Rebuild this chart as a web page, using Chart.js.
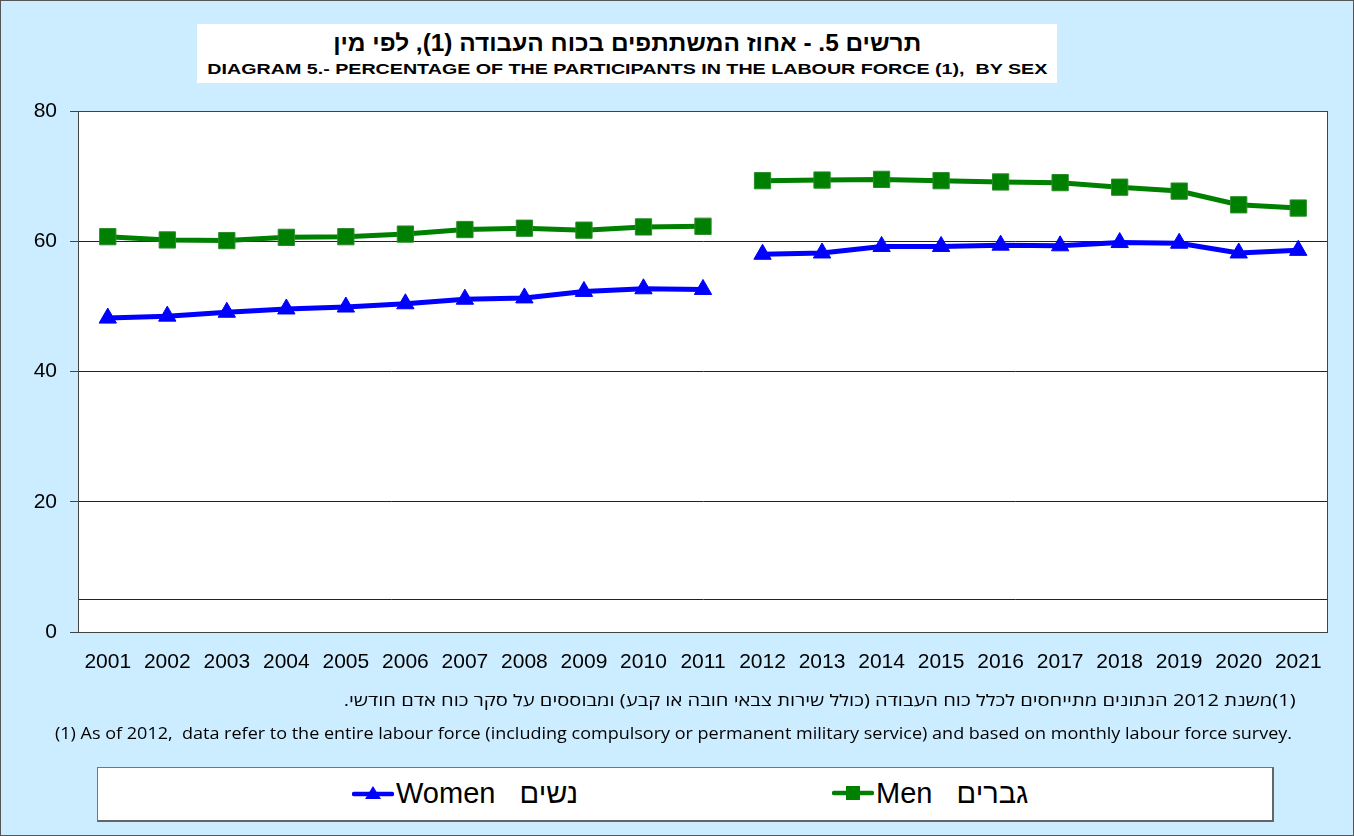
<!DOCTYPE html>
<html>
<head>
<meta charset="utf-8">
<script src="https://cdn.jsdelivr.net/npm/chart.js@4.4.1/dist/chart.umd.min.js"></script>
<style>
  html, body { margin:0; padding:0; }
  body { width:1354px; height:836px; background:#CCECFF; position:relative; overflow:hidden; font-family:"Liberation Sans", Arial, sans-serif; }
  #frame { position:absolute; left:0; top:0; width:1352px; height:834px; border:1px solid #555; pointer-events:none; }
  #wrap { position:absolute; left:0; top:0; width:1354px; height:836px; }
  #titlebox { position:absolute; left:197px; top:24px; width:860px; height:59px; background:#fff; text-align:center; }
  #t1 { position:absolute; left:0; right:0; top:6px; font-weight:bold; font-size:23px; direction:rtl; line-height:26px; }
  #t1s { display:inline-block; white-space:nowrap; transform-origin:center center; }
  #t2 { position:absolute; left:0; right:0; top:36px; font-weight:bold; font-size:15px; line-height:18px; white-space:nowrap; }
  .fit { display:inline-block; white-space:nowrap; transform-origin:center center; }
  #fnHe { position:absolute; right:58px; top:689px; font-size:16px; direction:rtl; white-space:nowrap; font-family:"Open Sans","Liberation Sans",sans-serif; }
  #fnEn { position:absolute; left:55px; top:722px; font-size:16px; white-space:nowrap; font-family:"Open Sans","Liberation Sans",sans-serif; transform-origin:left center; }
  #legend { position:absolute; left:97px; top:767px; width:1174px; height:52px; background:#fff; border:1px solid #777; border-right:2px solid #666; border-bottom:2px solid #666; }
  .li { position:absolute; top:7px; font-size:29px; line-height:36px; white-space:nowrap; display:flex; align-items:center; }
  .li svg { display:block; margin-right:2px; }
</style>
</head>
<body>
<div id="wrap"><canvas id="c" width="1354" height="836"></canvas></div>
<div id="titlebox">
  <div id="t1"><span id="t1s">תרשים 5. - אחוז המשתתפים בכוח העבודה (1), לפי מין</span></div>
  <div id="t2"><span class="fit" id="t2s">DIAGRAM 5.- PERCENTAGE OF THE PARTICIPANTS IN THE LABOUR FORCE (1),&nbsp; BY SEX</span></div>
</div>
<div id="fnHe">(1)משנת 2012 הנתונים מתייחסים לכלל כוח העבודה (כולל שירות צבאי חובה או קבע) ומבוססים על סקר כוח אדם חודשי.</div>
<div id="fnEn">(1) As of 2012,&nbsp; data refer to the entire labour force (including compulsory or permanent military service) and based on monthly labour force survey.</div>
<div id="legend">
  <div class="li" id="liW" style="left:254px;">
    <svg width="42" height="24"><line x1="2" y1="13" x2="40" y2="13" stroke="#0000FF" stroke-width="4.5" stroke-linecap="round"/><polygon points="21,5 29,18 13,18" fill="#0000FF"/></svg>
    <span>Women&nbsp;&nbsp;&nbsp;נשים</span>
  </div>
  <div class="li" id="liM" style="left:734px;">
    <svg width="42" height="24"><line x1="2" y1="12" x2="40" y2="12" stroke="#008000" stroke-width="4.5" stroke-linecap="round"/><rect x="14" y="5" width="14" height="14" fill="#008000"/></svg>
    <span>Men&nbsp;&nbsp;&nbsp;גברים</span>
  </div>
</div>
<div id="frame"></div>
<script>
const years = ['2001','2002','2003','2004','2005','2006','2007','2008','2009','2010','2011','2012','2013','2014','2015','2016','2017','2018','2019','2020','2021'];
const women = [48.2,48.5,49.1,49.6,49.9,50.4,51.1,51.3,52.3,52.7,52.6,58.0,58.2,59.2,59.2,59.4,59.3,59.8,59.7,58.2,58.6];
const men   = [60.7,60.2,60.1,60.6,60.7,61.1,61.8,62.0,61.7,62.2,62.3,69.3,69.4,69.5,69.3,69.1,69.0,68.3,67.7,65.6,65.1];
const yTicks = [0,5,20,40,60,80];
const breakIndex = 10; // series methodology break between 2011 and 2012

const AREA = {left:78, top:111, right:1328, bottom:632};
const XH = 50;

const bgPlugin = {
  id:'bg',
  beforeDraw(chart){
    const {ctx, chartArea:a} = chart;
    ctx.save(); ctx.fillStyle='#fff'; ctx.fillRect(a.left,a.top,a.right-a.left,a.bottom-a.top); ctx.restore();
  },
  afterDatasetsDraw(chart){
    const {ctx, chartArea:a} = chart;
    ctx.save(); ctx.strokeStyle='#444'; ctx.lineWidth=1;
    ctx.strokeRect(a.left+0.5,a.top+0.5,a.right-a.left-1,a.bottom-a.top);
    ctx.restore();
  }
};

const gap = c => c.p0DataIndex === breakIndex ? 'rgba(0,0,0,0)' : undefined;

new Chart(document.getElementById('c'), {
  type:'line',
  data:{
    labels: years,
    datasets:[
      {label:'Women נשים', data:women, borderColor:'#0000FF', backgroundColor:'#0000FF', borderWidth:5,
       pointStyle:'triangle', pointRadius:10, pointHoverRadius:10, pointBorderWidth:1, segment:{borderColor:gap}, tension:0},
      {label:'Men גברים', data:men, borderColor:'#008000', backgroundColor:'#008000', borderWidth:5,
       pointStyle:'rect', pointRadius:11.5, pointHoverRadius:11.5, pointBorderWidth:1, pointBorderColor:'#2a8a2a', segment:{borderColor:gap}, tension:0}
    ]
  },
  options:{
    responsive:false, animation:false, devicePixelRatio:1,
    layout:{padding:{left:0, top:AREA.top, right:1354-AREA.right, bottom:836-AREA.bottom-XH}},
    plugins:{legend:{display:false}, tooltip:{enabled:false}, title:{display:false}},
    scales:{
      x:{
        offset:true,
        grid:{display:false},
        border:{display:false},
        ticks:{color:'#000', font:{family:'"Liberation Sans", Arial, sans-serif', size:21}, padding:10, maxRotation:0, autoSkip:false},
        afterFit(s){ s.height = XH; }
      },
      y:{
        min:0, max:80,
        afterBuildTicks(s){ s.ticks = yTicks.map(v=>({value:v})); },
        afterFit(s){ s.width = AREA.left; },
        grid:{color:'#222', lineWidth:1, drawTicks:true, tickLength:8,
              tickColor: c => (c.tick && c.tick.value===5) ? 'rgba(0,0,0,0)' : '#444'},
        border:{display:true, color:'#444'},
        ticks:{color:'#000', font:{family:'"Liberation Sans", Arial, sans-serif', size:21}, padding:13,
               callback: v => v===5 ? '' : v}
      }
    }
  },
  plugins:[bgPlugin]
});

// fit condensed text widths to the reference extents
function fitWidth(el, target){
  const w = el.getBoundingClientRect().width;
  if (w>0) el.style.transform = 'scaleX(' + (target/w) + ')';
}
fitWidth(document.getElementById('t1s'), 588);
fitWidth(document.getElementById('t2s'), 840);
fitWidth(document.getElementById('fnEn'), 1237);
const he = document.getElementById('fnHe');
he.style.transformOrigin='right center';
fitWidth(he, 952);
</script>
</body>
</html>
